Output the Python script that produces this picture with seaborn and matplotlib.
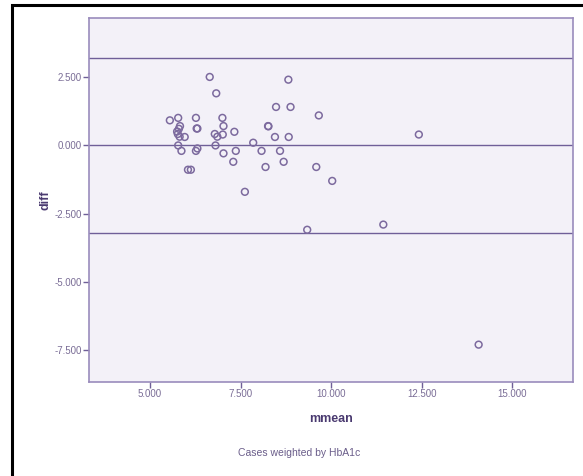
import matplotlib
matplotlib.use("Agg")
import matplotlib.pyplot as plt
import seaborn as sns
import pandas as pd
from matplotlib.patches import Rectangle

# values
mmean = [6.65, 6.83, 8.82, 8.48, 8.88, 9.66, 5.55, 5.78, 6.27, 7.00,
         5.83, 5.80, 5.75, 5.77, 5.82, 5.96, 6.29, 6.31, 7.03, 8.26,
         8.27, 7.33, 6.79, 6.86, 7.01, 8.45, 8.83, 12.42, 5.78, 6.81,
         7.85, 5.87, 6.27, 6.31, 7.03, 7.37, 8.08, 8.59, 7.30, 8.69,
         8.19, 9.59, 6.05, 6.13, 10.03, 7.62, 11.44, 9.34, 14.07]
diff = [2.51, 1.91, 2.41, 1.41, 1.41, 1.10, 0.92, 1.01, 1.01, 1.01,
        0.71, 0.61, 0.51, 0.42, 0.32, 0.31, 0.62, 0.62, 0.71, 0.71,
        0.70, 0.50, 0.42, 0.32, 0.40, 0.31, 0.31, 0.40, 0.00, 0.00,
        0.10, -0.20, -0.20, -0.11, -0.29, -0.20, -0.20, -0.20, -0.60, -0.60,
        -0.79, -0.79, -0.89, -0.89, -1.30, -1.70, -2.90, -3.09, -7.30]
ref_lines = [3.2, 0.0, -3.2]
xticks = [5.0, 7.5, 10.0, 12.5, 15.0]
yticks = [2.5, 0.0, -2.5, -5.0, -7.5]

df = pd.DataFrame({"mmean": mmean, "diff": diff})

sns.set_theme(style="white")
plt.rcParams["font.family"] = ["Liberation Sans", "DejaVu Sans"]

purple = "#6f5f98"
tickcol = "#7a6d96"
labcol = "#4a3a70"

fig = plt.figure(figsize=(5.83, 4.76), dpi=100)
ax = fig.add_axes([0.1527, 0.198, 0.982 - 0.1527, 0.9616 - 0.198])
ax.set_facecolor("#f3f1f8")

for y in ref_lines:
    ax.axhline(y, color=purple, lw=1.0, zorder=1)

sns.scatterplot(data=df, x="mmean", y="diff", ax=ax, s=24,
                facecolor="none", edgecolor="#7c6a9e", linewidth=1.1, zorder=3)

ax.set_xlim(3.32, 16.66)
ax.set_ylim(-8.66, 4.66)
ax.set_xticks(xticks)
ax.set_yticks(yticks)
ax.set_xticklabels([f"{v:.3f}" for v in xticks])
ax.set_yticklabels([f"{v:.3f}" for v in yticks])
ax.tick_params(axis="both", direction="out", length=4, width=1, color=purple,
               labelsize=7, labelcolor=tickcol, pad=1)
ax.tick_params(left=True, bottom=True)
for sp in ax.spines.values():
    sp.set_color("#9a8cbc")
    sp.set_linewidth(1.2)

ax.set_xlabel("mmean", fontsize=9, fontweight="bold", color=labcol, labelpad=10)
ax.set_ylabel("diff", fontsize=9, fontweight="bold", color=labcol, labelpad=2.5)

fig.text(299 / 583, 1 - 453 / 476, "Cases weighted by HbA1c", ha="center",
         va="center", fontsize=7.5, color="#6a5d8a")

# black frame around the whole chart
fig.patches.append(Rectangle((12 / 583, -0.1), 1.2, 1 - 5 / 476 + 0.1,
                             transform=fig.transFigure, fill=False,
                             edgecolor="black", lw=2.2))

fig.savefig("out.png", dpi=100, facecolor="white")
